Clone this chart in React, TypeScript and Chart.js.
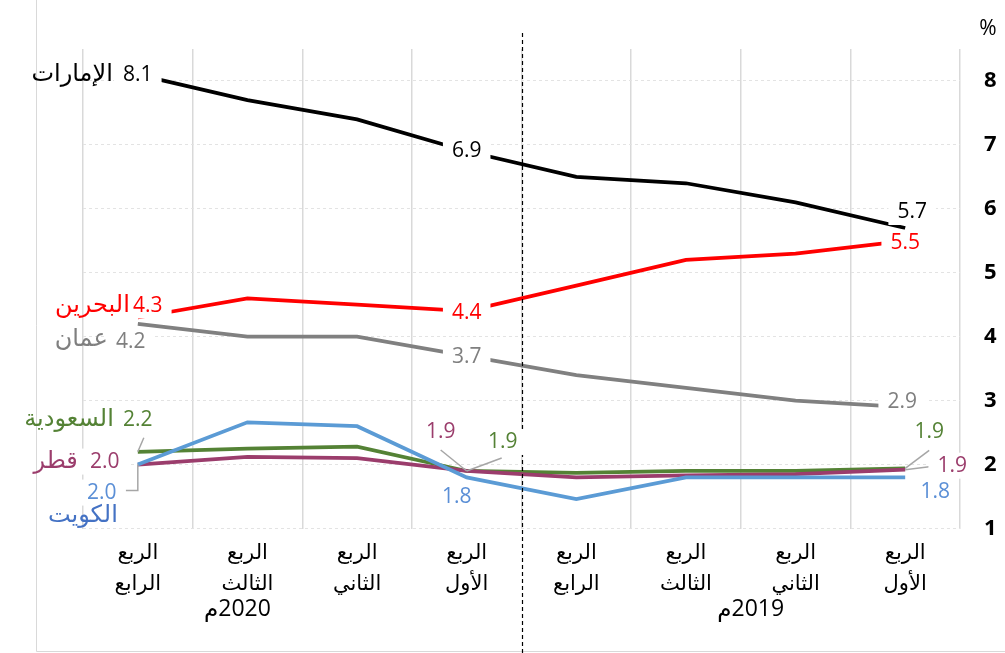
import { useEffect, useRef } from 'react';
import { Chart, registerables } from 'chart.js';

Chart.register(...registerables);

// ---------- data (chronological: 2019 Q1 ... 2020 Q4; x axis is reversed, RTL) ----------
const quarters = ['الربع الأول', 'الربع الثاني', 'الربع الثالث', 'الربع الرابع'];
const categories = [...quarters, ...quarters];
const years = ['2019م', '2020م'];
const yTicks = [1, 2, 3, 4, 5, 6, 7, 8];

const uae = [5.7, 6.1, 6.4, 6.5, 6.9, 7.4, 7.7, 8.1];
const bahrain = [5.5, 5.3, 5.2, 4.8, 4.4, 4.5, 4.6, 4.3];
const oman = [2.9, 3.0, 3.2, 3.4, 3.7, 4.0, 4.0, 4.2];
const kuwait = [1.8, 1.8, 1.8, 1.46, 1.8, 2.6, 2.66, 2.0];
const qatar = [1.92, 1.85, 1.83, 1.8, 1.9, 2.1, 2.12, 2.0];
const saudi = [1.94, 1.9, 1.9, 1.87, 1.9, 2.28, 2.25, 2.2];

const names = {
  uae: 'الإمارات',
  bahrain: 'البحرين',
  oman: 'عمان',
  kuwait: 'الكويت',
  qatar: 'قطر',
  saudi: 'السعودية',
};

// ---------- styles ----------
const FONT = "'Open Sans', 'DejaVu Sans', sans-serif";
const AR_FONT = "'DejaVu Sans', sans-serif";
const SERIES = [
  { key: 'uae', data: uae, color: '#000000', text: '#000000', nameColor: '#000000' },
  { key: 'bahrain', data: bahrain, color: '#ff0000', text: '#ff0000', nameColor: '#ff0000' },
  { key: 'oman', data: oman, color: '#808080', text: '#7f7f7f', nameColor: '#7f7f7f' },
  { key: 'kuwait', data: kuwait, color: '#5b9bd5', text: '#5b8fd6', nameColor: '#4472c4' },
  { key: 'qatar', data: qatar, color: '#9b3d6c', text: '#9b3d6c', nameColor: '#9b3d6c' },
  { key: 'saudi', data: saudi, color: '#548235', text: '#548235', nameColor: '#548235' },
];

// label placement (offsets in px from the data point)
type Lbl = { key: string; i: number; dx: number; dy: number; leader?: number[][] };
const VALUE_LABELS: Lbl[] = [
  { key: 'uae', i: 7, dx: 0, dy: 0 },
  { key: 'uae', i: 4, dx: 0, dy: 0 },
  { key: 'uae', i: 0, dx: 7, dy: -16 },
  { key: 'bahrain', i: 7, dx: 10, dy: -12 },
  { key: 'bahrain', i: 4, dx: 0, dy: 2 },
  { key: 'bahrain', i: 0, dx: 0, dy: 2 },
  { key: 'oman', i: 7, dx: -7, dy: 18 },
  { key: 'oman', i: 4, dx: 0, dy: 1 },
  { key: 'oman', i: 0, dx: -3, dy: -5 },
  { key: 'saudi', i: 7, dx: 0, dy: -32, leader: [[6, -14], [0, 0]] },
  { key: 'saudi', i: 4, dx: 36, dy: -29, leader: [[35, -13], [0, 0]] },
  { key: 'saudi', i: 0, dx: 24, dy: -36, leader: [[24, -18], [0, 0]] },
  { key: 'qatar', i: 7, dx: -33, dy: -3 },
  { key: 'qatar', i: 4, dx: -26, dy: -39, leader: [[-26, -21], [0, 0]] },
  { key: 'qatar', i: 0, dx: 47, dy: -4, leader: [[24, -3], [0, 0]] },
  { key: 'kuwait', i: 7, dx: -36, dy: 28, leader: [[-12, 26], [0, 26], [0, 0]] },
  { key: 'kuwait', i: 4, dx: -10, dy: 20 },
  { key: 'kuwait', i: 0, dx: 30, dy: 15 },
];
const NAME_LABELS = [
  { key: 'uae', i: 7, dx: -25, dy: 0 },
  { key: 'bahrain', i: 7, dx: -8, dy: -12 },
  { key: 'oman', i: 7, dx: -30, dy: 16 },
  { key: 'saudi', i: 7, dx: -24, dy: -32 },
  { key: 'qatar', i: 7, dx: -60, dy: -3 },
  { key: 'kuwait', i: 7, dx: -20, dy: 51 },
];

const framePlugin = {
  id: 'frame',
  beforeDraw(chart: any) {
    const { ctx, width, height } = chart;
    ctx.save();
    ctx.fillStyle = '#ffffff';
    ctx.fillRect(0, 0, width, height);
    ctx.strokeStyle = '#d9d9d9';
    ctx.lineWidth = 1;
    ctx.beginPath();
    ctx.moveTo(36.5, 0);
    ctx.lineTo(36.5, 651.5);
    ctx.lineTo(width, 651.5);
    ctx.stroke();
    ctx.restore();
  },
};

const overlayPlugin = {
  id: 'overlay',
  afterDatasetsDraw(chart: any) {
    const { ctx } = chart;
    const xs = chart.scales.x;
    const idx: Record<string, number> = {};
    SERIES.forEach((s, k) => (idx[s.key] = k));

    ctx.save();
    // dashed separator between 2019 Q4 and 2020 Q1
    const sepX = Math.round((xs.getPixelForValue(3) + xs.getPixelForValue(4)) / 2) + 0.5;
    ctx.strokeStyle = '#000000';
    ctx.lineWidth = 1.2;
    ctx.setLineDash([4, 3]);
    ctx.beginPath();
    ctx.moveTo(sepX, 33);
    ctx.lineTo(sepX, chart.height);
    ctx.stroke();
    ctx.setLineDash([]);

    // year labels
    ctx.fillStyle = '#000000';
    ctx.font = `23px ${FONT}`;
    ctx.textAlign = 'center';
    ctx.textBaseline = 'middle';
    (ctx as any).direction = 'rtl';
    const y19 = (xs.getPixelForValue(1) + xs.getPixelForValue(2)) / 2 + 10;
    const y20 = xs.getPixelForValue(6) - 10;
    ctx.fillText(years[0], y19, 609);
    ctx.fillText(years[1], y20, 609);
    (ctx as any).direction = 'ltr';

    // percent sign
    ctx.font = `21px ${FONT}`;
    ctx.fillText('%', 988, 29);

    // value labels
    ctx.font = `21px ${FONT}`;
    for (const l of VALUE_LABELS) {
      const s = SERIES[idx[l.key]];
      const pt = chart.getDatasetMeta(idx[l.key]).data[l.i];
      const txt = s.data[l.i].toFixed(1);
      const cx = pt.x + l.dx;
      const cy = pt.y + l.dy;
      if (l.leader) {
        ctx.strokeStyle = '#a6a6a6';
        ctx.lineWidth = 1.5;
        ctx.beginPath();
        l.leader.forEach(([ox, oy], k) => {
          if (k === 0) ctx.moveTo(pt.x + ox, pt.y + oy);
          else ctx.lineTo(pt.x + ox, pt.y + oy);
        });
        ctx.stroke();
      }
      const w = ctx.measureText(txt).width;
      ctx.fillStyle = '#ffffff';
      ctx.fillRect(cx - w / 2 - 9, cy - 13, w + 18, 26);
      ctx.fillStyle = s.text;
      ctx.textAlign = 'center';
      ctx.fillText(txt, cx, cy);
    }
    // country names
    ctx.font = `24px ${AR_FONT}`;
    for (const n of NAME_LABELS) {
      const s = SERIES[idx[n.key]];
      const pt = chart.getDatasetMeta(idx[n.key]).data[n.i];
      ctx.fillStyle = s.nameColor;
      ctx.textAlign = 'right';
      ctx.fillText((names as any)[n.key], pt.x + n.dx, pt.y + n.dy);
    }
    ctx.restore();
  },
};

export default function App() {
  const ref = useRef<HTMLCanvasElement>(null);
  useEffect(() => {
    const chart = new Chart(ref.current!, {
      type: 'line',
      data: {
        labels: categories,
        datasets: SERIES.map((s) => ({
          label: (names as any)[s.key],
          data: s.data,
          borderColor: s.color,
          backgroundColor: s.color,
          borderWidth: 3.75,
          pointRadius: 0,
          tension: 0,
          fill: false,
        })),
      },
      options: {
        responsive: false,
        animation: false,
        layout: { padding: { left: 83, top: 49, right: 0, bottom: 0 } },
        plugins: { legend: { display: false }, tooltip: { enabled: false }, title: { display: false } },
        scales: {
          x: {
            reverse: true,
            offset: true,
            grid: { offset: true, color: '#d9d9d9', lineWidth: 1.5, drawTicks: false },
            border: { display: false },
            afterFit: (sc: any) => {
              sc.height = 124.5;
            },
            ticks: {
              autoSkip: false,
              maxRotation: 0,
              padding: 10,
              color: '#000000',
              font: { family: AR_FONT, size: 21, lineHeight: 1.45 },
              callback: function (this: any, v: any) {
                return this.getLabelForValue(v).split(' ');
              },
            },
          },
          y: {
            position: 'right',
            min: 1,
            max: 8.5,
            afterFit: (sc: any) => {
              sc.width = 45;
            },
            grid: {
              drawTicks: false,
              color: (c: any) => (yTicks.includes(c.tick?.value) ? '#e3e3e3' : 'rgba(0,0,0,0)'),
              lineWidth: 1,
            },
            border: { display: false, dash: [3, 3] },
            ticks: {
              stepSize: 1,
              padding: 24,
              color: '#000000',
              font: { family: FONT, size: 22, weight: 'bold' },
              callback: (v: any) => (yTicks.includes(v) ? String(v) : ''),
            },
          },
        },
      },
      plugins: [framePlugin, overlayPlugin],
    } as any);
    return () => chart.destroy();
  }, []);
  return (
    <div style={{ position: 'absolute', left: 0, top: 0, width: 1005, height: 653, background: '#fff' }}>
      <canvas ref={ref} width={1005} height={653} style={{ display: 'block' }} />
    </div>
  );
}
